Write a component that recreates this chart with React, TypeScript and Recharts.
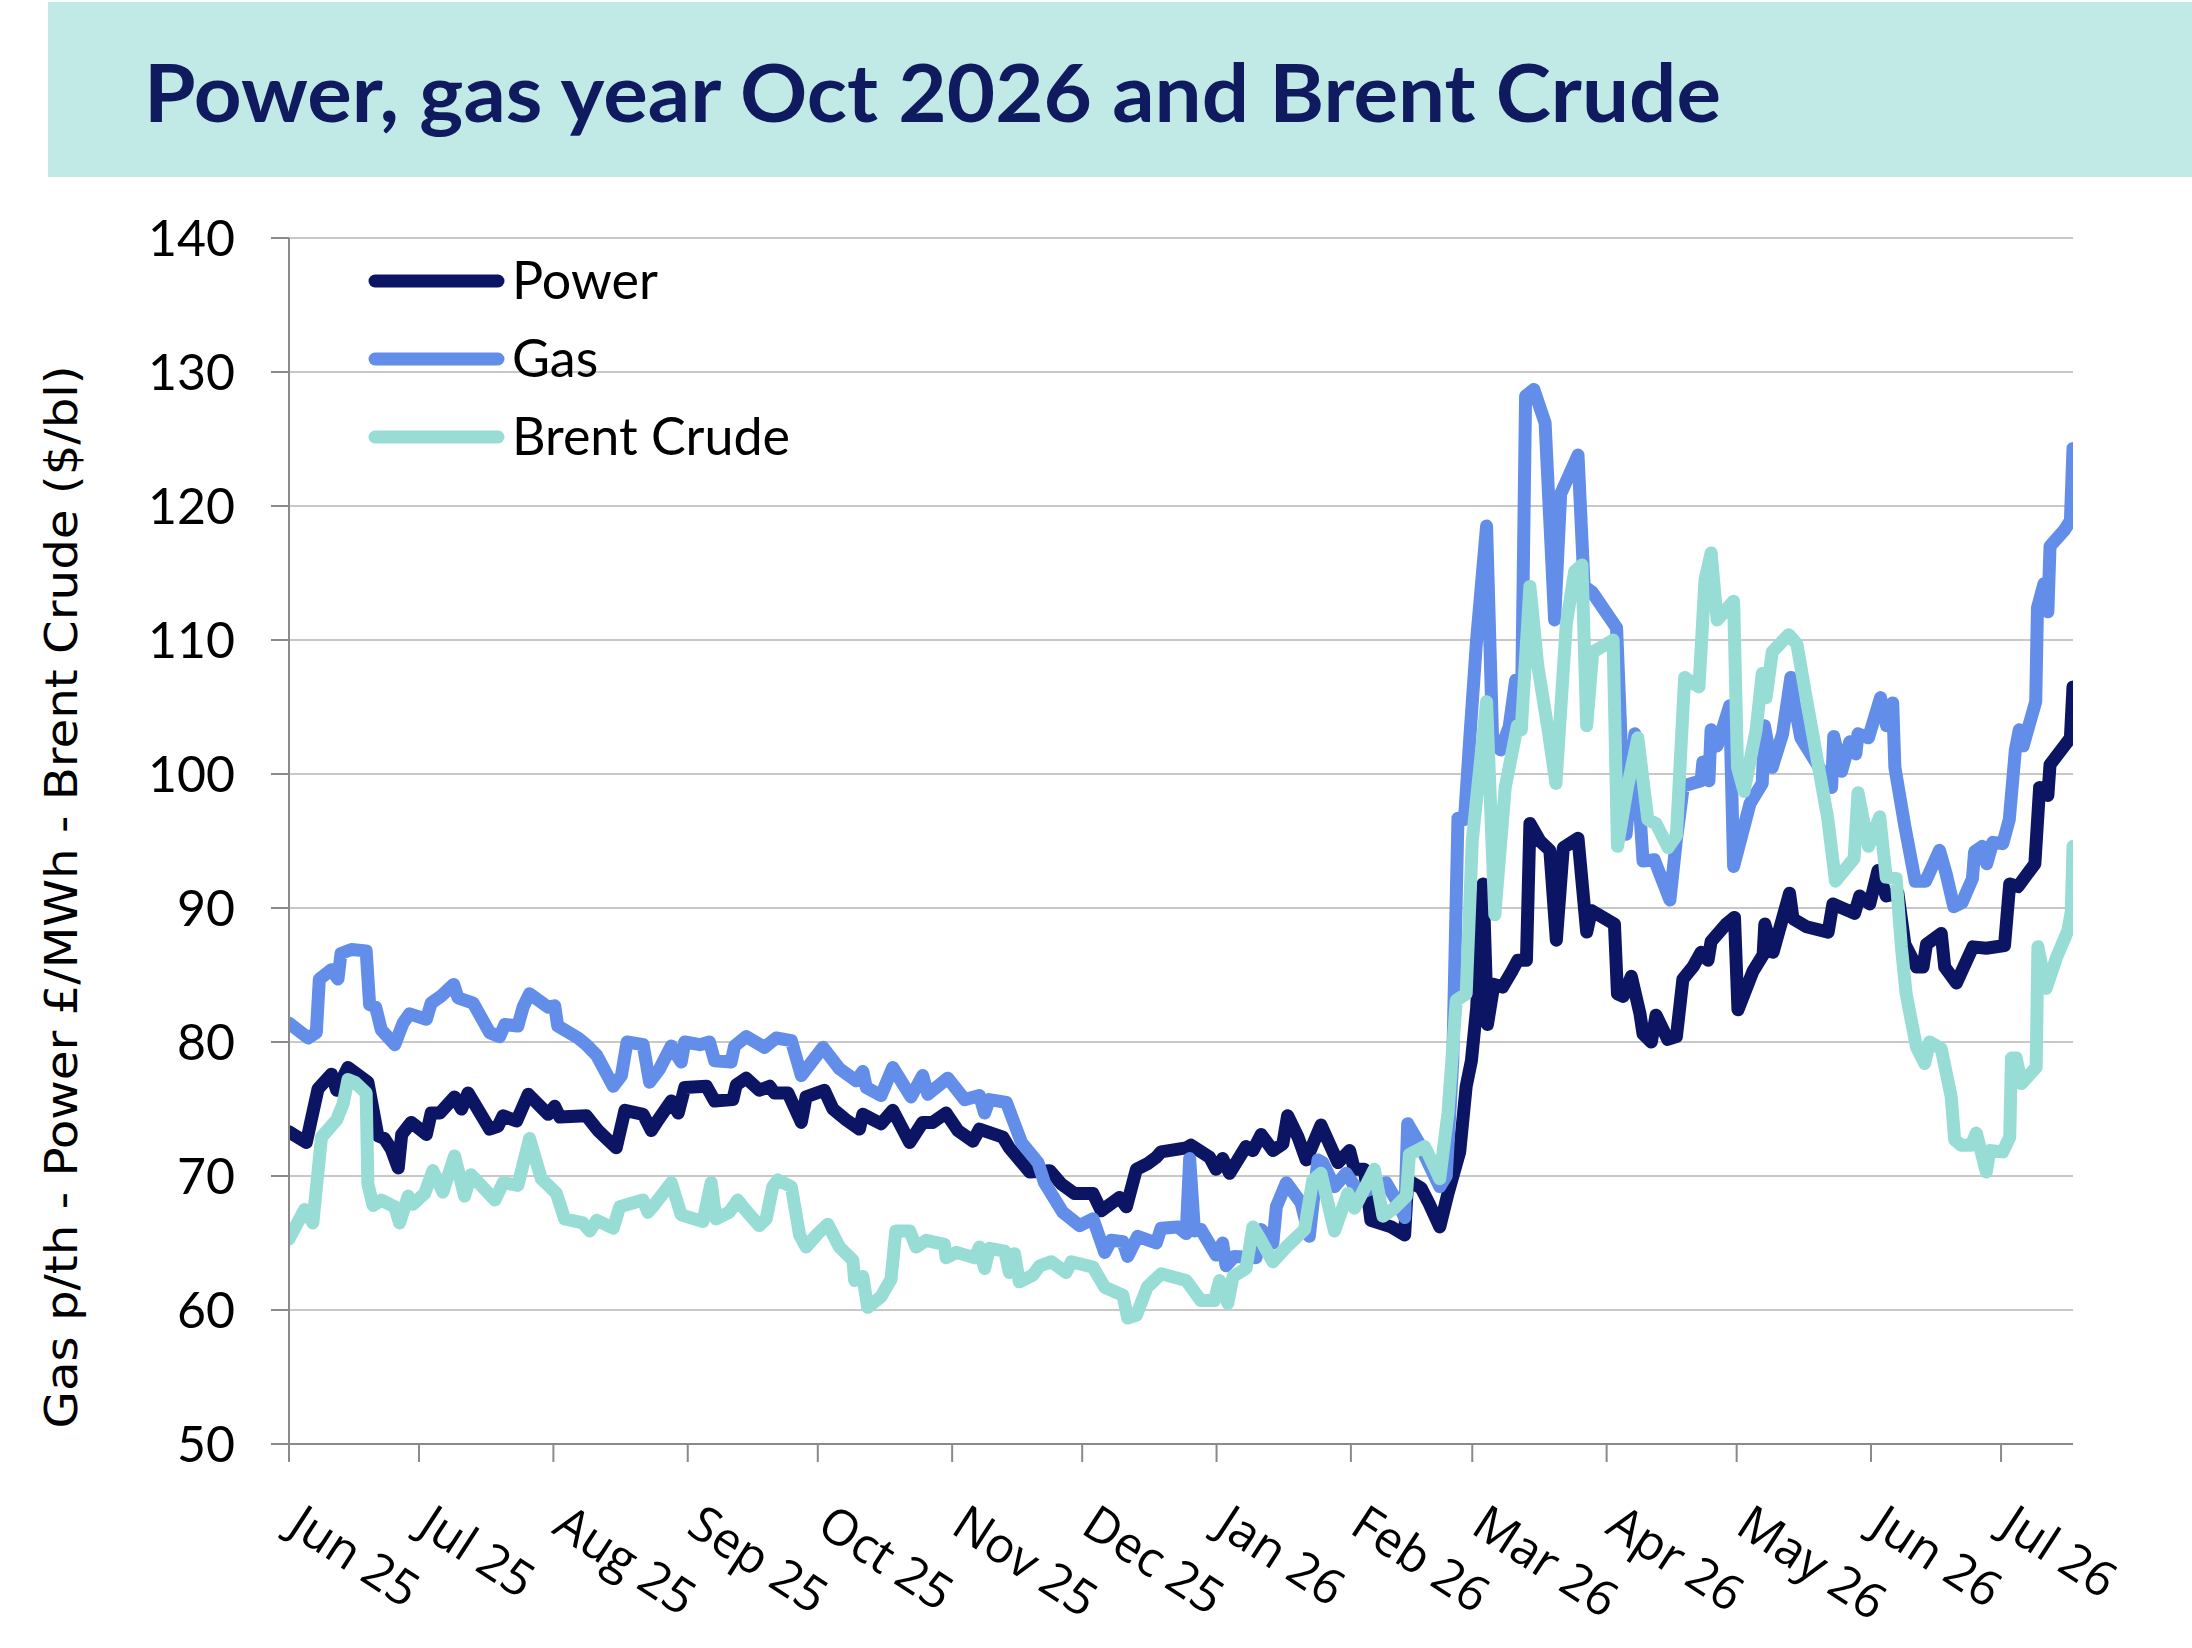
import React from "react";
import {
  LineChart,
  Line,
  XAxis,
  YAxis,
  CartesianGrid,
  Legend,
} from "recharts";

// x = days since 1 Jun 2025
const monthTicks = [0, 30, 61, 92, 122, 153, 183, 214, 245, 273, 304, 334, 365, 395];
const monthLabels = [
  "Jun 25", "Jul 25", "Aug 25", "Sep 25", "Oct 25", "Nov 25", "Dec 25",
  "Jan 26", "Feb 26", "Mar 26", "Apr 26", "May 26", "Jun 26", "Jul 26",
];
const yTicks = [50, 60, 70, 80, 90, 100, 110, 120, 130, 140];

const powerPts: [number, number][] = [
  [0, 73.3], [4, 72.5], [5, 74.0], [6.7, 76.5], [9.8, 77.6], [11, 76.4], [13.6, 78.1],
  [18.2, 77.0], [20.5, 73.0], [22, 72.8], [23.6, 72.0], [25.2, 70.6], [26, 73.1],
  [28.2, 74.0], [31.7, 73.1], [32.8, 74.7], [34.8, 74.7], [38.2, 75.9], [39.8, 75.0],
  [41.3, 76.2], [46.3, 73.5], [48.2, 73.7], [49.4, 74.5], [52.5, 74.1], [55.2, 76.1],
  [59.8, 74.6], [61.3, 75.2], [62.5, 74.4], [68.6, 74.5], [71.3, 73.4], [75.5, 72.1],
  [77.5, 74.9], [81.7, 74.6], [83.6, 73.4], [85.2, 74.2], [88.2, 75.6], [89.8, 74.7],
  [91.3, 76.6], [96.3, 76.7], [98.2, 75.6], [102.4, 75.7], [103.2, 76.8], [105.5, 77.3],
  [108.5, 76.4], [110.9, 76.7], [112, 76.2], [115.1, 76.2], [118.2, 74.0], [119.3, 75.9],
  [123.5, 76.4], [125.5, 75.0], [128.5, 74.2], [131.6, 73.5], [132.4, 74.6], [136.6, 73.9],
  [139.3, 74.9], [143.2, 72.5], [146.2, 74.0], [148.5, 74.0], [151.6, 74.7], [154.3, 73.4],
  [157.8, 72.6], [159.3, 73.5], [164.7, 72.9], [166.2, 72.1], [170.9, 70.3], [175.5, 70.4],
  [178.2, 69.4], [181.2, 68.7], [185.5, 68.7], [187.4, 67.4], [191.6, 68.4], [193.2, 67.7],
  [195.5, 70.5], [198, 70.9], [200.1, 71.4], [201.2, 71.8], [207, 72.1], [208.1, 72.3],
  [212.4, 71.4], [213.9, 70.5], [215.4, 71.3], [217, 70.2], [220.8, 72.2], [222.4, 71.9],
  [224.3, 73.1], [227, 71.9], [229.3, 72.4], [230.4, 74.5], [232.8, 72.9], [234.7, 71.2],
  [238.1, 73.8], [242, 71.0], [244.7, 71.9], [245.8, 70.5], [248.1, 70.5], [249.6, 66.7],
  [254.3, 66.2], [257.4, 65.6], [258.1, 69.7], [261.2, 69.1], [263.1, 67.9], [265.5, 66.2],
  [267.4, 68.7], [270.1, 71.8], [271.6, 76.7], [272.8, 78.6], [274, 82.5], [275.5, 91.8],
  [276.5, 81.3], [278, 84.3], [280, 84.1], [282, 85.2], [283.5, 86.1], [285.5, 86.1],
  [286.3, 96.3], [288.6, 95.0], [290.9, 94.3], [292.4, 87.6], [294, 94.5], [297.4, 95.2],
  [299.4, 88.2], [300.5, 89.8], [305.8, 88.8], [306.5, 83.6], [307.8, 83.4], [309.7, 84.9],
  [311.7, 82.1], [312.4, 80.6], [314.3, 80.0], [315.4, 82.0], [318.1, 80.2], [320.1, 80.4],
  [321.6, 84.7], [323.9, 85.6], [325.8, 86.7], [327.4, 86.1], [328.1, 87.5], [331.6, 88.8],
  [333.5, 89.3], [334.3, 82.4], [337.8, 85.3], [340.1, 86.5], [340.5, 88.8], [342.4, 86.7],
  [346.2, 91.1], [347, 89.2], [350.1, 88.6], [355.1, 88.2], [356.2, 90.3], [361.2, 89.6],
  [362.4, 90.9], [364.7, 90.3], [366.6, 92.8], [368.5, 90.9], [371.2, 91.1], [372.8, 87.3],
  [375.5, 85.6], [377, 85.6], [377.8, 87.3], [381.2, 88.1], [382, 85.6], [384.7, 84.4],
  [388.5, 87.1], [391.6, 87.0], [395.8, 87.2], [397, 91.8], [398.9, 91.6], [402.8, 93.3],
  [403.9, 99.0], [405.8, 98.4], [406.3, 100.7], [409.6, 102.1], [411, 102.7], [411.6, 106.5],
];

const gasPts: [number, number][] = [
  [0, 81.4], [4.4, 80.3], [6.3, 80.7], [7, 84.7], [9.8, 85.4], [11.3, 84.7], [12, 86.6],
  [14.4, 86.9], [17.8, 86.8], [18.6, 82.8], [20, 82.6], [21.3, 80.9], [24.4, 79.8],
  [26.3, 81.4], [27.8, 82.1], [31.7, 81.7], [32.8, 82.9], [35, 83.4], [38, 84.3], [39, 83.3],
  [42.5, 82.9], [46.3, 80.7], [48.6, 80.4], [49.8, 81.3], [52.8, 81.2], [54, 82.6],
  [55.5, 83.6], [59.8, 82.6], [61.3, 82.7], [62, 81.2], [66.7, 80.3], [68.6, 79.8], [71, 79.0],
  [74.8, 76.7], [76.7, 77.5], [78, 80.0], [81.7, 79.8], [83.2, 77.0], [85.5, 78.0],
  [88.2, 79.7], [90.5, 78.5], [91.3, 80.0], [94.8, 79.8], [97, 80.0], [98.2, 78.6],
  [102, 78.5], [102.8, 79.7], [105.5, 80.4], [109.7, 79.6], [112.4, 80.3], [115.9, 80.1],
  [118.2, 77.5], [123.2, 79.6], [127, 78.0], [130.9, 77.1], [132.4, 77.8], [133.2, 76.6],
  [136.6, 76.0], [139.3, 78.1], [143.5, 75.9], [146.2, 77.5], [147.4, 76.1], [152, 77.3],
  [155.9, 75.7], [159.3, 76.0], [160.5, 74.7], [161.6, 75.7], [165.5, 75.5], [169, 72.5],
  [172.8, 71.0], [174.3, 69.5], [178.5, 67.3], [182.4, 66.3], [185.5, 66.8], [188.2, 64.3],
  [189.7, 65.2], [192.4, 65.1], [193.5, 64.0], [195.8, 65.5], [200.1, 65.0], [201.2, 66.1],
  [205.1, 66.2], [207, 65.7], [207.8, 71.3], [208.9, 65.9], [210.4, 66.0], [213.9, 64.1],
  [215.4, 65.0], [216.2, 63.3], [218.1, 64.0], [223.1, 63.9], [224.3, 66.0], [227, 65.0],
  [227.8, 67.7], [230.1, 69.5], [233.5, 68.0], [235.4, 65.5], [237.4, 71.2], [238.5, 71.0],
  [241.2, 69.2], [243.9, 70.2], [247, 68.7], [253.1, 69.5], [255.8, 68.0], [257.4, 66.9],
  [258.1, 73.9], [260.8, 72.4], [262.8, 71.0], [265.5, 69.2], [267, 70.0], [268.5, 78.6],
  [269.7, 96.7], [271.2, 96.6], [272.5, 103.0], [274, 110.0], [276.3, 118.5], [277.7, 102.5],
  [279.5, 101.8], [281.5, 103.5], [283, 107.0], [284.3, 103.5], [285.3, 128.2], [287.2, 128.7],
  [289.8, 126.2], [292, 111.5], [293.4, 120.9], [297.4, 123.8], [298.8, 114.0], [300.6, 113.6],
  [306.3, 110.9], [307.4, 102.0], [308.5, 95.5], [310.5, 103.0], [312.4, 93.5], [315, 93.6],
  [318.6, 90.6], [320.1, 95.1], [321.7, 99.1], [325.8, 99.5], [326.2, 100.9], [327.6, 99.5],
  [328.1, 103.3], [329.5, 102.1], [332.4, 105.1], [333.3, 93.1], [337.1, 97.8], [339.9, 99.3],
  [340.4, 103.6], [342.2, 100.5], [344.6, 103.0], [346.5, 107.2], [347.4, 105.1],
  [348.8, 102.7], [355.9, 99.0], [356.4, 102.8], [358.2, 100.2], [360.1, 102.4],
  [361.5, 101.5], [362, 103.0], [364.4, 102.7], [367.2, 105.7], [368.6, 103.6], [370, 105.3],
  [370.5, 100.5], [372.8, 96.1], [375.2, 92.0], [377.6, 92.0], [380.8, 94.3], [382.3, 92.6],
  [384.1, 90.1], [386, 90.4], [388.4, 92.2], [388.9, 94.2], [390.7, 94.6], [391.7, 93.3],
  [393.1, 94.9], [395.4, 94.8], [396.9, 96.6], [398.3, 101.8], [399.2, 103.3], [400.1, 102.1],
  [403, 105.4], [403.4, 112.4], [404.9, 114.2], [405.8, 112.1], [406.3, 117.0], [409.6, 118.2],
  [411, 118.9], [411.6, 124.3],
];

const brentPts: [number, number][] = [
  [0, 65.3], [3.6, 67.5], [5.5, 66.5], [7.5, 72.9], [11, 74.2], [12.5, 75.4], [13.6, 77.2],
  [15.2, 77.0], [17.8, 76.2], [18.2, 69.4], [19.4, 67.8], [21.3, 68.2], [24.4, 67.7],
  [25.5, 66.5], [27.5, 68.5], [28.6, 67.9], [31.3, 68.7], [33.2, 70.4], [35.5, 68.8],
  [38.2, 71.5], [40.5, 68.5], [42, 70.1], [47.5, 68.2], [49.4, 69.5], [52.8, 69.3],
  [55.5, 72.8], [58.2, 69.8], [61.7, 68.7], [63.6, 66.8], [67.8, 66.5], [69.4, 65.9], [71, 66.7],
  [74.8, 66.1], [76.3, 67.7], [81.7, 68.2], [82.8, 67.3], [84.4, 67.9], [88.2, 69.5],
  [90.5, 67.1], [95.5, 66.6], [97.4, 69.5], [98.5, 66.8], [101.6, 67.3], [103.5, 68.2],
  [105.5, 67.4], [108.5, 66.3], [110.1, 66.8], [111.6, 69.2], [112.8, 69.7], [115.9, 69.2],
  [117.8, 65.6], [119.3, 64.7], [122, 65.7], [124.3, 66.4], [127, 64.7], [130.1, 63.7],
  [130.5, 62.2], [132.4, 62.5], [133.5, 60.2], [136.6, 61.0], [138.9, 62.3], [140, 65.9],
  [143.2, 65.9], [144.7, 64.7], [147, 65.2], [151.2, 64.9], [151.6, 63.9], [154, 64.3],
  [158.2, 63.9], [159.3, 64.7], [160.5, 63.1], [161.6, 64.6], [165.1, 64.4], [166.2, 62.8],
  [167.4, 64.2], [168.5, 62.1], [171.6, 62.6], [173.2, 63.3], [175.9, 63.6], [179.3, 62.8],
  [180.5, 63.6], [185.5, 63.2], [188.2, 61.7], [192.4, 61.1], [193.5, 59.4], [195.5, 59.6],
  [198, 61.7], [201.2, 62.7], [207, 62.2], [210.4, 60.7], [213.5, 60.7], [214.7, 62.2],
  [216.6, 60.5], [217.8, 62.5], [220.8, 63.1], [222.4, 66.2], [223.9, 65.4], [227, 63.6],
  [230.4, 64.8], [234.3, 66.0], [236.2, 69.7], [238.1, 70.2], [241.2, 65.9], [244.3, 68.7],
  [245.8, 67.6], [250.4, 70.5], [252.4, 67.0], [255, 67.6], [257.8, 68.5], [258.5, 71.6],
  [262, 72.2], [263.5, 71.2], [265.5, 69.8], [267.4, 74.7], [269.3, 83.1], [271.6, 83.6],
  [273, 95.0], [276.3, 105.4], [278.2, 89.5], [280.6, 99.0], [283.4, 103.6], [284.3, 103.3],
  [286.3, 114.0], [288.1, 108.1], [290.5, 103.3], [292.3, 99.3], [294.7, 111.2],
  [296.6, 115.1], [298.3, 115.6], [299.4, 103.6], [300.8, 109.1], [305.5, 110.0],
  [306.5, 94.6], [308.8, 99.0], [311.2, 102.7], [313.5, 96.6], [315.4, 96.3], [318.2, 94.5],
  [320.1, 95.4], [322, 107.2], [325.3, 106.5], [326.7, 114.5], [328.1, 116.5], [329.5, 111.5],
  [333.3, 112.9], [334.2, 100.5], [335.7, 98.7], [338.5, 103.3], [339.9, 107.5],
  [340.8, 105.7], [342.2, 109.1], [346, 110.4], [347.9, 109.7], [350.2, 105.4], [355, 96.7],
  [356.8, 92.0], [361.1, 93.7], [362, 98.6], [364.4, 94.6], [367, 96.8], [368.5, 92.3],
  [370.8, 92.2], [372, 87.1], [373.1, 83.6], [375.5, 79.6], [377.4, 78.4], [378.5, 80.0],
  [381.2, 79.5], [383.5, 75.9], [384.3, 72.7], [385.8, 72.3], [388.1, 72.3], [389.3, 73.2],
  [391.6, 70.3], [392.4, 71.9], [395.4, 71.8], [397, 72.9], [397.4, 78.8], [398.5, 78.8],
  [399.7, 76.9], [403.1, 78.1], [403.5, 87.1], [405.4, 84.0], [407.8, 86.3], [410.4, 88.3],
  [411.2, 89.7], [411.6, 94.6],
];

const toRows = (pts: [number, number][]) => pts.map(([day, v]) => ({ day, v }));

const series = [
  { name: "Power", color: "#0c1563", rows: toRows(powerPts) },
  { name: "Gas", color: "#628de9", rows: toRows(gasPts) },
  { name: "Brent Crude", color: "#97ddd5", rows: toRows(brentPts) },
];

const NAVY = "#0f1a5f";
const AXIS = "#8a8a8a";

function XTick({ x, y, payload }: any) {
  const i = monthTicks.indexOf(payload.value);
  const tx = x - 3;
  const ty = y + 70;
  return (
    <text
      x={tx}
      y={ty}
      transform={`rotate(33 ${tx} ${ty})`}
      textAnchor="start"
      fontFamily="'Open Sans', sans-serif"
      fontSize={49}
      fill="#000"
    >
      {monthLabels[i]}
    </text>
  );
}

function LegendBox() {
  return (
    <svg width={640} height={240}>
      {series.map((s, i) => {
        const ly = 41 + i * 78;
        return (
          <g key={s.name}>
            <line x1={35} x2={158} y1={ly} y2={ly} stroke={s.color} strokeWidth={13} strokeLinecap="round" />
            <text x={172} y={ly + 18} fontFamily="Lato, sans-serif" fontSize={52} fill="#000">
              {s.name}
            </text>
          </g>
        );
      })}
    </svg>
  );
}

export default function App() {
  return (
    <div
      style={{
        position: "absolute",
        left: 0,
        top: 0,
        width: 2192,
        height: 1648,
        background: "#fff",
        overflow: "hidden",
      }}
    >
      <div
        style={{
          position: "absolute",
          left: 48,
          top: 2,
          width: 2144,
          height: 175,
          background: "#c1eae6",
        }}
      />
      <div style={{ position: "absolute", left: 0, top: 0 }}>
        <LineChart
          width={2192}
          height={1648}
          margin={{ top: 238, right: 119, left: 209, bottom: 144 }}
        >
          <CartesianGrid horizontal vertical={false} stroke="#c8c8c8" strokeWidth={2} />
          <XAxis
            dataKey="day"
            type="number"
            domain={[0, 411.6]}
            ticks={monthTicks}
            interval={0}
            height={60}
            axisLine={{ stroke: AXIS, strokeWidth: 2 }}
            tickLine={{ stroke: AXIS, strokeWidth: 2 }}
            tickSize={18}
            tickMargin={0}
            tick={<XTick />}
            allowDataOverflow
          />
          <YAxis
            type="number"
            domain={[50, 140]}
            ticks={yTicks}
            interval={0}
            width={80}
            axisLine={{ stroke: AXIS, strokeWidth: 2 }}
            tickLine={{ stroke: AXIS, strokeWidth: 2 }}
            tickSize={18}
            tickMargin={36}
            tick={{ fill: "#000", fontFamily: "Lato, sans-serif", fontSize: 50 }}
          />
          <Legend
            layout="vertical"
            align="center"
            verticalAlign="middle"
            wrapperStyle={{ left: 340, top: 240, width: 640, height: 240 }}
            content={() => <LegendBox />}
          />
          {series.map((s) => (
            <Line
              key={s.name}
              data={s.rows}
              dataKey="v"
              name={s.name}
              type="linear"
              stroke={s.color}
              strokeWidth={13}
              strokeLinejoin="round"
              strokeLinecap="round"
              dot={false}
              activeDot={false}
              isAnimationActive={false}
            />
          ))}
        </LineChart>
      </div>
      <svg
        width={2192}
        height={1648}
        style={{ position: "absolute", left: 0, top: 0, pointerEvents: "none" }}
      >
        <text
          x={144}
          y={122}
          textLength={1577}
          lengthAdjust="spacingAndGlyphs"
          fontFamily="Lato, sans-serif"
          fontWeight={700}
          fontSize={80}
          fill={NAVY}
        >
          Power, gas year Oct 2026 and Brent Crude
        </text>
        <text
          x={77}
          y={897}
          transform="rotate(-90 77 897)"
          textAnchor="middle"
          textLength={1063}
          lengthAdjust="spacingAndGlyphs"
          fontFamily="'DejaVu Sans', sans-serif"
          fontSize={44}
          fill="#000"
        >
          Gas p/th - Power £/MWh - Brent Crude ($/bl)
        </text>
      </svg>
    </div>
  );
}
